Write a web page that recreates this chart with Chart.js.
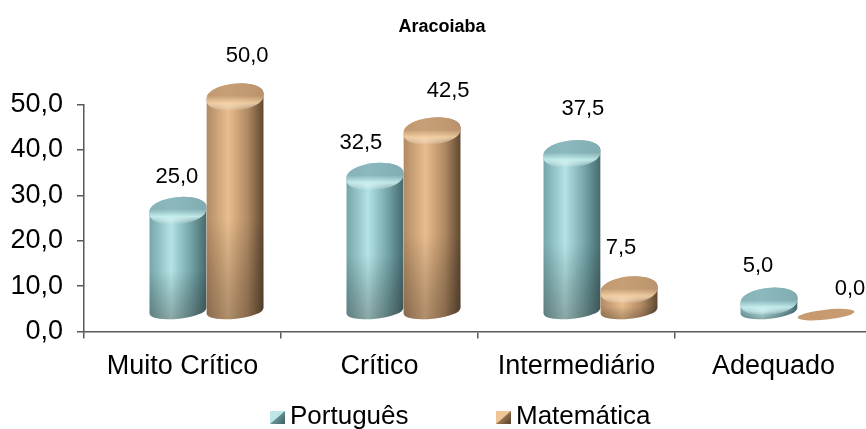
<!DOCTYPE html>
<html>
<head>
<meta charset="utf-8">
<style>
  html, body { margin: 0; padding: 0; background: #fff; overflow: hidden; }
  #box { width: 866px; height: 429px; overflow: hidden; }
</style>
<script src="https://cdn.jsdelivr.net/npm/chart.js@4"></script>
</head>
<body>
<div id="box"><canvas id="chart" width="884" height="429" style="display:block"></canvas></div>
<script>
const titulo = "Aracoiaba";
const categorias = ["Muito Crítico", "Crítico", "Intermediário", "Adequado"];
const portugues = [25.0, 32.5, 37.5, 5.0];
const matematica = [50.0, 42.5, 7.5, 0.0];
const yTicks = [0, 10, 20, 30, 40, 50];

// deslocamento manual dos rótulos, como no original
const rotuloPortugues = [[-1, -32], [-14, -32], [11, -43], [-11, -34]];
const rotuloMatematica = [[12, -40], [16, -39], [-8, -41], [24, -34]];

const corPortugues = { esc: "#74a5a9", luz: "#b4e3e5", fim: "#46696d", topo: "rgba(135,180,185,0.9)", aba: "rgba(200,240,240,0.9)", leg1: "#bfe6e6", leg2: "#3f5f60" };
const corMatematica = { esc: "#b18a63", luz: "#e9bd8e", fim: "#5e4730", topo: "rgba(195,155,115,0.9)", aba: "rgba(245,210,165,0.9)", leg1: "#efc595", leg2: "#55402a" };

const fmt = (v) => v.toFixed(1).replace(".", ",");

const INCLINA = -6 * Math.PI / 180;

const cilindro = (ctx, cx, topo, base, w, c, valor) => {
  const rx = w / 2;
  if (valor === 0) {
    ctx.fillStyle = "#c79a70";
    ctx.beginPath();
    ctx.ellipse(cx, base + 3, rx, 5, INCLINA, 0, Math.PI * 2);
    ctx.fill();
    return;
  }
  const ry = 12;
  // corpo
  const corpo = ctx.createLinearGradient(cx - rx, 0, cx + rx, 0);
  corpo.addColorStop(0, c.esc);
  corpo.addColorStop(0.38, c.luz);
  corpo.addColorStop(0.72, c.esc);
  corpo.addColorStop(1, c.fim);
  ctx.fillStyle = corpo;
  ctx.beginPath();
  ctx.ellipse(cx, topo, rx, ry, INCLINA, Math.PI, Math.PI * 2);
  ctx.ellipse(cx, base, rx, 8, INCLINA, 0, Math.PI);
  ctx.closePath();
  ctx.fill();
  // escurece para baixo
  const sombra = ctx.createLinearGradient(0, topo, 0, base + 9);
  sombra.addColorStop(0, "rgba(0,0,0,0)");
  sombra.addColorStop(0.55, "rgba(0,0,0,0)");
  sombra.addColorStop(1, "rgba(40,30,20,0.3)");
  ctx.fillStyle = sombra;
  ctx.fill();
  // tampa com aba suave
  const tampa = ctx.createLinearGradient(0, topo - ry, 0, topo + ry + 3);
  tampa.addColorStop(0, c.topo);
  tampa.addColorStop(0.45, c.topo);
  tampa.addColorStop(0.72, c.aba);
  tampa.addColorStop(1, "rgba(255,255,255,0)");
  ctx.fillStyle = tampa;
  ctx.beginPath();
  ctx.ellipse(cx, topo, rx, ry, INCLINA, Math.PI, Math.PI * 2);
  ctx.ellipse(cx, topo + 3, rx, ry, INCLINA, 0, Math.PI);
  ctx.closePath();
  ctx.fill();
};

const barras3d = {
  id: "barras3d",
  afterLayout(chart) {
    // centro do título no original
    chart.titleBlock.left += 12;
  },
  afterDatasetsDraw(chart, args, opts) {
    const { ctx } = chart;
    chart.data.datasets.forEach((ds, i) => {
      chart.getDatasetMeta(i).data.forEach((bar, j) => {
        const topo = bar.y - opts.elevaTopo;
        cilindro(ctx, bar.x + opts.desvio, topo, bar.base - opts.elevaBase, bar.width, ds.cores, ds.data[j]);
      });
    });
    ctx.save();
    ctx.fillStyle = "#000";
    ctx.font = '22px "Liberation Sans"';
    ctx.textAlign = "center";
    ctx.textBaseline = "middle";
    chart.data.datasets.forEach((ds, i) => {
      chart.getDatasetMeta(i).data.forEach((bar, j) => {
        const [dx, dy] = ds.rotulos[j];
        ctx.fillText(fmt(ds.data[j]), bar.x + opts.desvio + dx, bar.y - opts.elevaTopo + dy);
      });
    });
    // legenda
    ctx.font = '26px "Liberation Sans"';
    ctx.textAlign = "left";
    chart.data.datasets.forEach((ds, i) => {
      const x = opts.legendaX[i];
      const y = opts.legendaY;
      ctx.fillStyle = ds.cores.leg1;
      ctx.fillRect(x, y - 6, 15, 13);
      const d = ctx.createLinearGradient(x + 15, y + 7, x + 4, y - 2);
      d.addColorStop(0, ds.cores.leg2);
      d.addColorStop(1, ds.cores.esc);
      ctx.fillStyle = d;
      ctx.beginPath();
      ctx.moveTo(x + 15, y - 6);
      ctx.lineTo(x + 15, y + 7);
      ctx.lineTo(x, y + 7);
      ctx.closePath();
      ctx.fill();
      ctx.fillStyle = "#000";
      ctx.fillText(ds.label, x + 20, y);
    });
    ctx.restore();
  },
};

new Chart(document.getElementById("chart"), {
  type: "bar",
  data: {
    labels: categorias,
    datasets: [
      { label: "Português", data: portugues, backgroundColor: "transparent", cores: corPortugues, rotulos: rotuloPortugues },
      { label: "Matemática", data: matematica, backgroundColor: "transparent", cores: corMatematica, rotulos: rotuloMatematica },
    ],
  },
  options: {
    responsive: false,
    animation: false,
    categoryPercentage: 0.58,
    barPercentage: 1,
    layout: { padding: { top: 0, right: 12, bottom: 34, left: 0 } },
    scales: {
      x: {
        grid: { drawOnChartArea: false, color: "#595959", lineWidth: 1.5, tickLength: 7 },
        border: { color: "#595959", width: 1.5 },
        ticks: { color: "#000", font: { family: "Liberation Sans", size: 27 }, padding: 12, maxRotation: 0 },
      },
      y: {
        min: 0,
        max: 50,
        afterFit(scale) { scale.width = 84; },
        afterBuildTicks(scale) { scale.ticks = yTicks.map((value) => ({ value })); },
        grid: { drawOnChartArea: false, color: "#595959", lineWidth: 1.5, tickLength: 7 },
        border: { color: "#595959", width: 1.5 },
        ticks: { color: "#000", font: { family: "Liberation Sans", size: 27 }, padding: 14, callback: (v) => fmt(v) },
      },
    },
    plugins: {
      title: {
        display: true,
        text: titulo,
        color: "#000",
        font: { family: "Liberation Sans", size: 18, weight: "bold" },
        padding: { top: 16, bottom: 67 },
      },
      legend: { display: false },
      tooltip: { enabled: false },
      barras3d: { elevaTopo: 9, elevaBase: 20, desvio: 24, legendaX: [270, 496], legendaY: 417 },
    },
  },
  plugins: [barras3d],
});
</script>
</body>
</html>
